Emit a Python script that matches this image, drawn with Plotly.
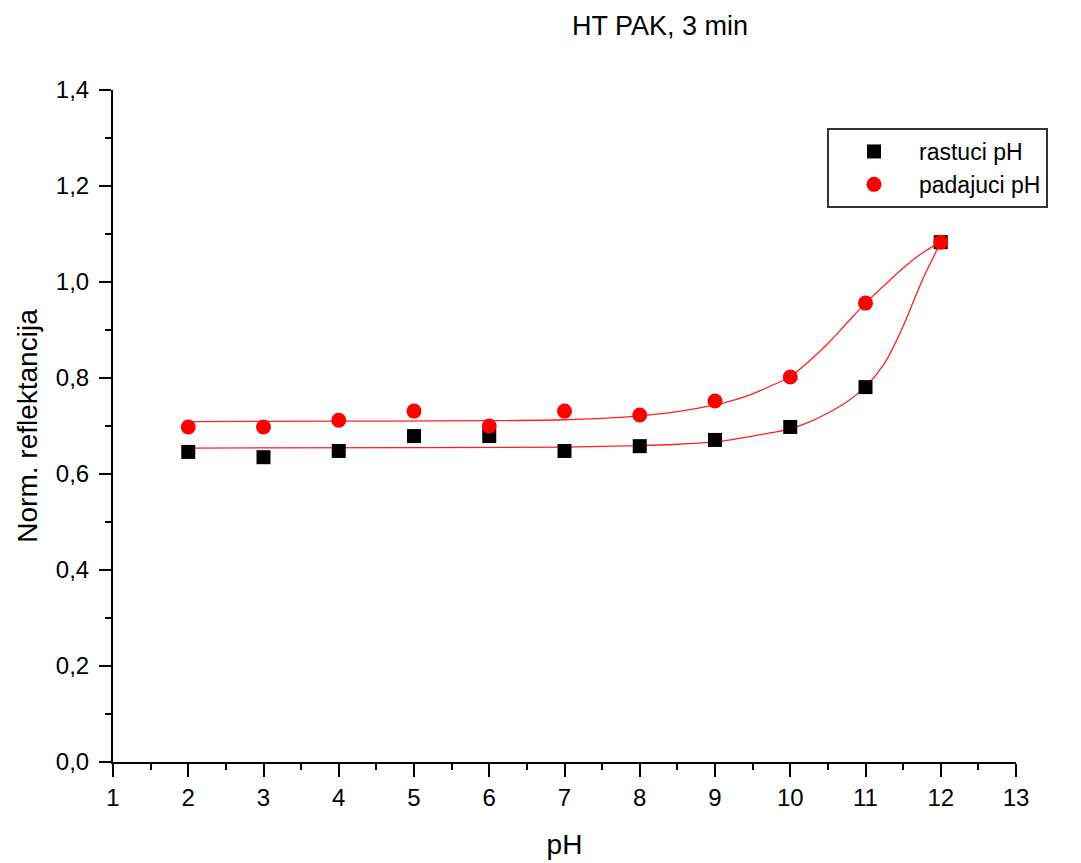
import plotly.graph_objects as go

# ---- data ----
ph = [2, 3, 4, 5, 6, 7, 8, 9, 10, 11, 12]
rastuci = [0.646, 0.635, 0.648, 0.679, 0.679, 0.648, 0.658, 0.671, 0.698, 0.781, 1.083]
padajuci = [0.698, 0.698, 0.712, 0.731, 0.700, 0.731, 0.723, 0.752, 0.802, 0.956, 1.083]

# fitted curves
fit_up_x = [2, 4, 6, 7, 7.5, 8, 8.5, 9, 9.25, 9.5, 9.75, 10, 10.25, 10.5, 10.75, 11, 11.25, 11.5, 11.75, 12]
fit_up_y = [0.709, 0.710, 0.711, 0.713, 0.716, 0.721, 0.730, 0.744, 0.754, 0.767, 0.784, 0.803,
            0.835, 0.872, 0.914, 0.956, 0.993, 1.029, 1.060, 1.083]
fit_dn_x = [2, 5, 7, 8, 8.5, 9, 9.25, 9.5, 9.75, 10, 10.25, 10.5, 10.75, 11, 11.25, 11.5, 11.75, 12]
fit_dn_y = [0.654, 0.655, 0.656, 0.659, 0.662, 0.667, 0.672, 0.679, 0.686, 0.694, 0.708, 0.727,
            0.750, 0.782, 0.830, 0.908, 1.002, 1.083]

title_text = "HT PAK, 3 min"
x_title = "pH"
y_title = "Norm. reflektancija"
names = ["rastuci pH", "padajuci pH"]

FONT = "Liberation Sans, Arial, sans-serif"

# the page body adds an 8 px offset; the figure is sized to compensate
fig = go.Figure()
fig.add_trace(go.Scatter(x=fit_dn_x, y=fit_dn_y, mode="lines", showlegend=False,
                         line=dict(color="#ff2020", width=1.3, shape="spline", smoothing=1.0),
                         hoverinfo="skip"))
fig.add_trace(go.Scatter(x=fit_up_x, y=fit_up_y, mode="lines", showlegend=False,
                         line=dict(color="#ff2020", width=1.3, shape="spline", smoothing=1.0),
                         hoverinfo="skip"))
fig.add_trace(go.Scatter(x=ph, y=rastuci, mode="markers", name=names[0],
                         marker=dict(symbol="square", size=14, color="black", line=dict(width=0)),
                         cliponaxis=False))
fig.add_trace(go.Scatter(x=ph, y=padajuci, mode="markers", name=names[1],
                         marker=dict(symbol="circle", size=15, color="#ff0000", line=dict(width=0)),
                         cliponaxis=False))

fig.update_layout(
    width=1073, height=855,
    margin=dict(l=105, r=65, t=82, b=101, autoexpand=False),
    paper_bgcolor="white", plot_bgcolor="white",
    separators=", ",
    font=dict(family=FONT, color="black", size=24),
    showlegend=True,
    legend=dict(x=(827 - 113) / 903, y=(762 - 128) / 672, xanchor="left", yanchor="top",
                bordercolor="#333333", borderwidth=2, bgcolor="white",
                font=dict(size=23, family=FONT), itemwidth=80,
                tracegroupgap=0),
    annotations=[dict(text=title_text, xref="paper", yref="paper",
                      x=(660 - 113) / 903, y=(762 - 9) / 672,
                      xanchor="center", yanchor="top", showarrow=False,
                      font=dict(size=27, family=FONT, color="black"))],
)

fig.update_xaxes(
    range=[1, 13], tickmode="linear", tick0=1, dtick=1, automargin=False,
    showline=True, linecolor="black", linewidth=2, mirror=False,
    showgrid=False, zeroline=False,
    ticks="outside", ticklen=13, tickwidth=2, tickcolor="black",
    ticklabelstandoff=0,
    minor=dict(ticks="outside", ticklen=6, tickwidth=2, tickcolor="black", dtick=0.5, showgrid=False),
    tickfont=dict(size=24, family=FONT, color="black"),
    title=dict(text=x_title, font=dict(size=28, family=FONT, color="black"), standoff=25),
)
fig.update_yaxes(
    range=[0, 1.4], tickmode="linear", tick0=0, dtick=0.2, tickformat=".1f", automargin=False,
    showline=True, linecolor="black", linewidth=2, mirror=False,
    showgrid=False, zeroline=False,
    ticks="outside", ticklen=12, tickwidth=2, tickcolor="black",
    ticklabelstandoff=5,
    minor=dict(ticks="outside", ticklen=6, tickwidth=2, tickcolor="black", dtick=0.1, showgrid=False),
    tickfont=dict(size=24, family=FONT, color="black"),
    title=dict(text=y_title, font=dict(size=28, family=FONT, color="black"), standoff=10),
)

fig.write_html("out.html")
